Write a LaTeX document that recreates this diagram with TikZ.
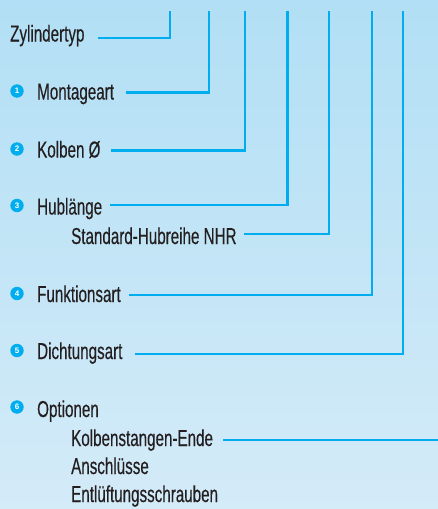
\documentclass[tikz,border=0pt]{standalone}
\usepackage{fontspec}
\setmainfont[FakeStretch=0.66,FakeBold=0.35]{Liberation Sans}
\newfontfamily\numfont{Liberation Sans}
\definecolor{bgtop}{RGB}{178,223,245}
\definecolor{bgbot}{RGB}{212,235,248}
\definecolor{cyanline}{RGB}{0,174,239}
\definecolor{txt}{RGB}{35,31,32}
\begin{document}
\begin{tikzpicture}[x=1pt,y=-1pt,
  lbl/.style={anchor=base west,inner sep=0pt,font=\fontsize{23}{23}\selectfont,text=txt},
  conn/.style={draw=cyanline,line width=2.5pt},
  bullet/.style={circle,fill=cyanline,draw=cyanline,line width=0.8pt,minimum size=12.5pt,inner sep=0pt,text=white,font=\numfont\bfseries\fontsize{8}{8}\selectfont}]
\shade[top color=bgtop,bottom color=bgbot] (0,0) rectangle (438,509);
\useasboundingbox (0,0) rectangle (438,509);
% top ends of the connectors
\coordinate (v1) at (170,11);
\coordinate (v2) at (209,11);
\coordinate (v3) at (245,11);
\coordinate (v4) at (287.5,11);
\coordinate (v5) at (329,11);
\coordinate (v6) at (372,11);
\coordinate (v7) at (403,11);
\coordinate (rend) at (438,440);
% labels
\node[lbl] (zyl) at (10,41.5) {Zylindertyp};
\node[bullet] (b1) at (17,91) {1};
\node[lbl] (mont) at (37,99.5) {Montageart};
\node[bullet] (b2) at (17,149) {2};
\node[lbl] (kol) at (37,157.5) {Kolben Ø};
\node[bullet] (b3) at (17,205.5) {3};
\node[lbl] (hub) at (37,214.5) {Hublänge};
\node[lbl] (std) at (71,244) {Standard-Hubreihe NHR};
\node[bullet] (b4) at (17,293.5) {4};
\node[lbl] (funk) at (37,302) {Funktionsart};
\node[bullet] (b5) at (17,350.5) {5};
\node[lbl] (dicht) at (37,359) {Dichtungsart};
\node[bullet] (b6) at (17,407) {6};
\node[lbl] (opt) at (37,417) {Optionen};
\node[lbl] (kse) at (71,446) {Kolbenstangen-Ende};
\node[lbl] (ans) at (71,474) {Anschlüsse};
\node[lbl] (ent) at (71,502) {Entlüftungsschrauben};
% connectors
\draw[conn] ([xshift=13pt,yshift=3.5pt]zyl.base east) -| (v1);
\draw[conn] ([xshift=12pt,yshift=7pt]mont.base east) -| (v2);
\draw[conn] ([xshift=10pt,yshift=7pt]kol.base east) -| (v3);
\draw[conn] ([xshift=8pt,yshift=9.5pt]hub.base east) -| (v4);
\draw[conn] ([xshift=7pt,yshift=10pt]std.base east) -| (v5);
\draw[conn] ([xshift=8pt,yshift=7pt]funk.base east) -| (v6);
\draw[conn] ([xshift=12pt,yshift=5pt]dicht.base east) -| (v7);
\draw[conn] ([xshift=10pt,yshift=6pt]kse.base east) coordinate (ks0) -- (ks0 -| rend);
\end{tikzpicture}
\end{document}
